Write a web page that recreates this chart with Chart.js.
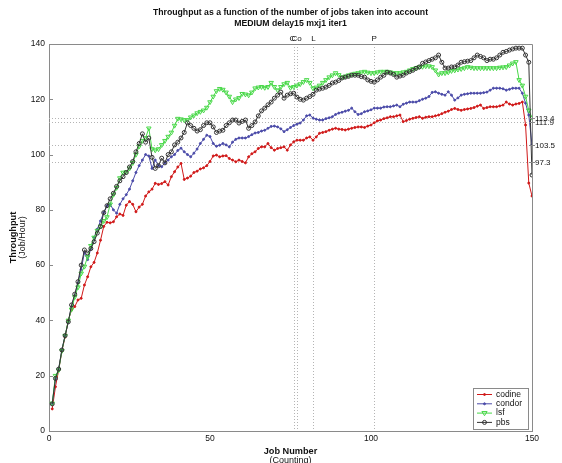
<!DOCTYPE html>
<html>
<head>
<meta charset="utf-8">
<script src="https://cdn.jsdelivr.net/npm/chart.js@4.4.1/dist/chart.umd.min.js"></script>
<style>
  html, body { margin: 0; padding: 0; background: #fff; }
  #wrap { position: relative; width: 562px; height: 463px; }
</style>
</head>
<body>
<div id="wrap"><canvas id="chart" width="562" height="463"></canvas></div>
<script>
// job numbers (x categories)
const jobs = Array.from({ length: 150 }, (_, i) => i + 1);

// throughput per scheduler (Job/Hour)
const codine = [
  8, 16, 22, 29, 34, 40, 43.8, 45, 47.4, 48,
  52.8, 55.8, 59.4, 61, 64.4, 69, 74, 75.5, 75.3, 75.7,
  77.5, 78.5, 78, 81.7, 83, 82, 79.3, 81, 82, 85,
  86.5, 87.5, 89.6, 89.2, 89.5, 90.2, 89, 92, 93.8, 95.5,
  96.8, 91, 91.5, 92.2, 93.5, 94, 94.8, 95.2, 96, 97.5,
  99.5, 99.8, 99.2, 99.5, 99.6, 98.6, 98, 97.4, 98, 97.5,
  97, 99.2, 100.3, 101, 102.2, 102.8, 102.8, 104, 102.5, 101.6,
  102.2, 102.5, 102.8, 101.6, 103.5, 104.6, 105.2, 105.2, 105.2, 106,
  106.4, 105.2, 106.4, 107.7, 108, 108.3, 108.8, 109.2, 109.5, 109.2,
  109.1, 108.9, 109.2, 109.5, 109.8, 110, 110, 109.8, 110.3, 110.7,
  111.5, 112.2, 112.5, 113, 113.3, 113.7, 113.7, 114, 114.3, 111.9,
  112.3, 112.8, 113.1, 113.4, 113.7, 113.1, 113.5, 113.7, 113.7, 114,
  114.3, 114.8, 115.3, 115.7, 116.3, 116.7, 116.3, 116, 116.3, 116.5,
  116.7, 117, 117.5, 117.9, 116.7, 117, 117.3, 117.3, 117.3, 117.6,
  117.9, 119, 118.3, 117.9, 118.3, 118.5, 119, 110.7, 89.7, 85
];
const condor = [
  9.8, 19, 22.4, 29.3, 34.5, 39.5, 45, 49, 53.5, 58.5,
  64.5, 62, 66, 70, 73, 76, 79, 81.5, 82, 80,
  78.8, 82, 84, 85.5, 87.5, 90.5, 93.5, 96, 98, 100,
  99.5, 95, 98, 96, 95.6, 97, 98, 99.2, 100, 101.5,
  102.3, 101, 100, 99.2, 100.5, 102, 104, 105.5, 107, 106.5,
  104, 103, 103.4, 104, 103.5, 102.8, 104.5, 105.5, 106, 106,
  106, 106.5, 107.2, 107.8, 108, 108.5, 108.8, 109.5, 110.2, 110.3,
  110, 109.3, 108.3, 109, 109.8, 110.5, 111, 111.4, 112.5, 114,
  114.3, 113.2, 112.8, 112.5, 112.5, 113, 113.3, 113.7, 114.5, 115,
  115.3, 115.7, 116, 116.8, 115.5, 114.5, 114.8, 115.5, 115.8, 116.2,
  116.8, 116.8, 116.8, 117.2, 117.3, 117.3, 117.6, 117.9, 117.3, 118.2,
  118.6, 119, 119, 119, 119.5, 120, 120.4, 121, 122.5, 122.7,
  122.2, 121.8, 121.5, 122.7, 121.5, 119.7, 120.5, 121.5, 121.8, 122,
  122.2, 122.2, 122.2, 122.2, 122.4, 122.6, 123.3, 124, 124, 124,
  123.8, 123.3, 123.6, 124, 124, 124, 122.2, 118.6, 114.3, 103.5
];
const lsf = [
  10, 20, 22, 29, 34.5, 40, 44, 48.5, 52, 57,
  59.5, 63, 67, 70, 72.5, 74, 76, 77.4, 82, 85.5,
  88, 91.5, 93.5, 93.7, 95, 97, 100, 103, 105, 106,
  109.5, 102, 101.6, 102, 103.5, 105, 106.5, 108, 110.5, 113,
  112.8, 112.5, 112.5, 113.5, 114.2, 115, 115.5, 116, 117, 119,
  121, 123, 123.8, 123.5, 122.5, 121, 119, 120, 120.5, 122,
  121.8, 121.5, 122.5, 124, 124.3, 124.5, 124.2, 124.5, 126, 124.5,
  123.3, 124.5, 125.5, 126, 124.2, 124.5, 125, 125.5, 126.3, 127,
  126, 124, 124.3, 125, 126, 127, 128, 128.7, 129.5, 128.8,
  128, 128.3, 128.7, 129, 129.3, 129.5, 129.8, 130, 129.7, 129.5,
  129.5, 129.8, 130, 130, 130, 129.8, 129.5, 129.5, 129.5, 129.8,
  130, 130.5, 131, 131.3, 131.7, 131.8, 132, 132, 131.7, 130.5,
  129, 129.5, 129.5, 129.8, 130.3, 130.5, 130.8, 131, 131.3, 131.7,
  131.5, 131.3, 131.3, 131.3, 131.3, 131.3, 131.3, 131.3, 131.3, 131.5,
  131.6, 131.7, 132.3, 133, 133.5, 127, 125, 121, 116, 113.4
];
const pbs = [
  9.8, 19, 22.4, 29.3, 34.5, 39.5, 45.6, 49.5, 54, 60,
  65.5, 64.4, 66, 68.5, 71.6, 74, 79, 81.5, 84, 86,
  88.5, 90.5, 92, 93.5, 95.5, 97.5, 101, 104, 107.5, 104.5,
  106, 99, 95, 96, 98.7, 97, 100, 101, 103.5, 104.5,
  106, 108, 111.5, 110.5, 109.5, 108.5, 109, 110.5, 111.5, 111.5,
  110, 108, 108.5, 108.8, 110.5, 111.5, 112.5, 112.5, 111.4, 112,
  112.5, 109.5, 110.5, 111.8, 114, 115.8, 116.8, 118, 119, 120.4,
  121.5, 122.6, 120.4, 121.5, 122, 122.2, 120.8, 120, 119.7, 120.4,
  121, 121.8, 123.3, 123.7, 124, 124.4, 125, 125.9, 126.2, 126.8,
  127.7, 128, 128.3, 128.7, 128.7, 128.7, 128.2, 128, 127, 126.5,
  126.2, 127, 128, 128.7, 129.8, 129.5, 129, 128, 128.4, 128.7,
  129.5, 130, 130.5, 131.2, 131.7, 133, 133.5, 134, 134.5, 135,
  136, 133.4, 131.3, 131.3, 131.7, 131.7, 132.4, 133.4, 133.6, 133.8,
  134, 135, 136, 135.5, 135, 134, 134.5, 134.5, 135, 136,
  137, 137.3, 137.8, 138.2, 138.5, 138.5, 138.5, 136, 133.4, 92.6
];

// dotted reference levels (right side labels)
const refValues = [113.4, 111.9, 103.5, 97.3];
const refLabels = ["113.4", "111.9", "103.5", "97.3"];

// dotted vertical markers (top labels)
const markJobs = [76.2, 76.9, 82.1, 101];
const markLabels = ["C", "Co", "L", "P"];

const seriesNames = ["codine", "condor", "lsf", "pbs"];
const xTicks = [0, 50, 100, 150];

const FONT = "'Liberation Sans', Arial, Helvetica, sans-serif";
const AXIS_GREY = "#8a8a8a";

const toXY = (vals) => vals.map((v, i) => ({ x: jobs[i], y: v }));

const styles = [
  { color: "#d01818", point: "circle", radius: 1, fill: "#d01818" },
  { color: "#4a4aa8", point: "circle", radius: 1, fill: "#4a4aa8" },
  { color: "#48d848", point: "triangle", radius: 2.6, fill: "rgba(0,0,0,0)", rotation: 180 },
  { color: "#333333", point: "circle", radius: 2, fill: "rgba(0,0,0,0)" }
];

// small marker painter, used for the legend
function drawMarker(ctx, s, x, y) {
  ctx.save();
  ctx.strokeStyle = s.color;
  ctx.fillStyle = s.fill;
  ctx.lineWidth = 1;
  ctx.setLineDash([]);
  if (s.point === "triangle") {
    const r = s.radius;
    ctx.beginPath();
    ctx.moveTo(x - r, y - r * 0.6);
    ctx.lineTo(x + r, y - r * 0.6);
    ctx.lineTo(x, y + r);
    ctx.closePath();
    ctx.stroke();
  } else {
    ctx.beginPath();
    ctx.arc(x, y, s.radius, 0, Math.PI * 2);
    ctx.fill();
    ctx.stroke();
  }
  ctx.restore();
}

const extras = {
  id: "extras",
  beforeDatasetsDraw(chart) {
    const { ctx, chartArea: a, scales: { x, y } } = chart;
    ctx.save();
    ctx.strokeStyle = "#b4b4b4";
    ctx.lineWidth = 1;
    ctx.setLineDash([1, 2]);
    refValues.forEach((v) => {
      const py = Math.round(y.getPixelForValue(v)) + 0.5;
      ctx.beginPath();
      ctx.moveTo(a.left, py);
      ctx.lineTo(a.right, py);
      ctx.stroke();
    });
    markJobs.forEach((j) => {
      const px = Math.round(x.getPixelForValue(j)) + 0.5;
      ctx.beginPath();
      ctx.moveTo(px, a.top);
      ctx.lineTo(px, a.bottom);
      ctx.stroke();
    });
    ctx.restore();
  },
  afterDraw(chart) {
    const { ctx, chartArea: a, scales: { x, y } } = chart;
    ctx.save();

    // box: top and right edges
    ctx.strokeStyle = AXIS_GREY;
    ctx.lineWidth = 1;
    ctx.beginPath();
    ctx.moveTo(a.left, a.top + 0.5);
    ctx.lineTo(a.right + 0.5, a.top + 0.5);
    ctx.lineTo(a.right + 0.5, a.bottom);
    ctx.stroke();

    // inner y ticks
    for (let v = 0; v <= 140; v += 20) {
      const py = Math.round(y.getPixelForValue(v)) + 0.5;
      ctx.beginPath();
      ctx.moveTo(a.left, py);
      ctx.lineTo(a.left + 4, py);
      ctx.stroke();
    }

    // right-hand level labels
    ctx.fillStyle = "#111";
    ctx.font = "8px " + FONT;
    ctx.textAlign = "left";
    ctx.textBaseline = "middle";
    refValues.forEach((v, i) => {
      const py = Math.round(y.getPixelForValue(v)) + 0.5;
      ctx.beginPath();
      ctx.moveTo(a.right - 3, py);
      ctx.lineTo(a.right + 3, py);
      ctx.stroke();
      ctx.fillText(refLabels[i], a.right + 3, py);
    });

    // top marker labels (the first one sits just left of its line)
    ctx.textBaseline = "alphabetic";
    markJobs.forEach((j, i) => {
      const px = x.getPixelForValue(j);
      ctx.textAlign = i === 0 ? "right" : "center";
      ctx.fillText(markLabels[i], i === 0 ? px + 1 : px, a.top - 3);
    });

    // title
    const cx = (a.left + a.right) / 2;
    ctx.textAlign = "center";
    ctx.font = "bold 8.7px " + FONT;
    ctx.textBaseline = "middle";
    ctx.fillText("Throughput as a function of the number of jobs taken into account", cx, 13);
    ctx.fillText("MEDIUM delay15 mxj1 iter1", cx, 24);

    // x axis title
    ctx.font = "bold 9.2px " + FONT;
    ctx.fillText("Job Number", cx, 451);
    ctx.font = "9px " + FONT;
    ctx.fillText("(Counting)", cx, 461);

    // y axis title
    ctx.save();
    ctx.translate(13, (a.top + a.bottom) / 2);
    ctx.rotate(-Math.PI / 2);
    ctx.font = "bold 9.2px " + FONT;
    ctx.fillText("Throughput", 0, 0);
    ctx.font = "9px " + FONT;
    ctx.fillText("(Job/Hour)", 0, 10);
    ctx.restore();

    // legend box
    const lx = 473, ly = 388, lw = 55, lh = 41;
    ctx.fillStyle = "#fff";
    ctx.fillRect(lx, ly, lw, lh);
    ctx.strokeStyle = AXIS_GREY;
    ctx.strokeRect(lx + 0.5, ly + 0.5, lw, lh);
    ctx.font = "8.5px " + FONT;
    ctx.textAlign = "left";
    ctx.textBaseline = "middle";
    seriesNames.forEach((name, i) => {
      const s = styles[i];
      const yy = ly + 6 + i * 9.3;
      ctx.strokeStyle = s.color;
      ctx.beginPath();
      ctx.moveTo(lx + 4, yy + 0.5);
      ctx.lineTo(lx + 19, yy + 0.5);
      ctx.stroke();
      drawMarker(ctx, s, lx + 11.5, yy + 0.5);
      ctx.fillStyle = "#111";
      ctx.fillText(name, lx + 23, yy + 0.5);
    });

    ctx.restore();
  }
};

const datasets = [codine, condor, lsf, pbs].map((vals, i) => ({
  label: seriesNames[i],
  data: toXY(vals),
  borderColor: styles[i].color,
  borderWidth: 1,
  pointStyle: styles[i].point,
  pointRadius: styles[i].radius,
  pointRotation: styles[i].rotation || 0,
  pointBackgroundColor: styles[i].fill,
  pointBorderColor: styles[i].color,
  pointBorderWidth: 1,
  tension: 0,
  order: 3 - i
}));

new Chart(document.getElementById("chart"), {
  type: "line",
  data: { datasets },
  options: {
    responsive: false,
    animation: false,
    devicePixelRatio: 1,
    layout: { padding: { left: 0, top: 44, right: 30, bottom: 0 } },
    plugins: {
      legend: { display: false },
      title: { display: false },
      tooltip: { enabled: false }
    },
    scales: {
      x: {
        type: "linear",
        min: 0,
        max: 150,
        afterFit: (s) => { s.height = 32; },
        afterBuildTicks: (s) => { s.ticks = xTicks.map((v) => ({ value: v })); },
        grid: { display: true, drawOnChartArea: false, drawTicks: false },
        border: { color: AXIS_GREY },
        ticks: { padding: 3, color: "#111", font: { size: 8.5, family: FONT } }
      },
      y: {
        min: 0,
        max: 140,
        afterFit: (s) => { s.width = 49; },
        grid: { display: true, drawOnChartArea: false, drawTicks: false },
        border: { color: AXIS_GREY },
        ticks: { stepSize: 20, padding: 4, color: "#111", font: { size: 8.5, family: FONT } }
      }
    }
  },
  plugins: [extras]
});
</script>
</body>
</html>
